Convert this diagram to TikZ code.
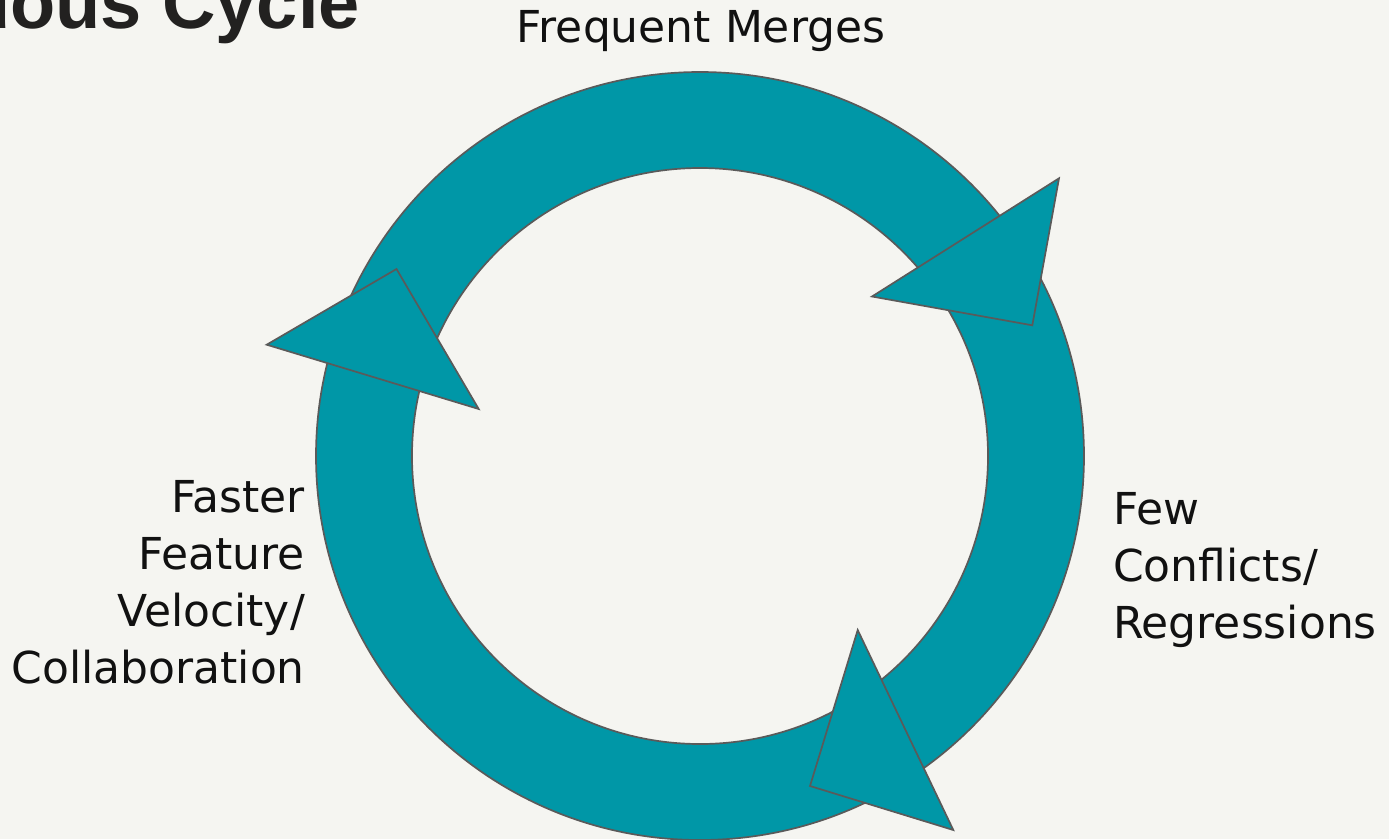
\documentclass[tikz,border=0pt]{standalone}
\usepackage{fontspec}
\setmainfont{DejaVu Sans}
\newfontfamily\titlefont{Liberation Sans}
\definecolor{bgc}{HTML}{F5F5F1}
\definecolor{ringteal}{HTML}{0097A7}
\definecolor{edgec}{HTML}{5A5A5A}
\definecolor{ink}{HTML}{111111}
\definecolor{titleink}{HTML}{222120}
\begin{document}
\begin{tikzpicture}[x=1pt,y=-1pt,
  ringfill/.style={fill=ringteal, even odd rule},
  ringedge/.style={draw=edgec, line width=1.7pt},
  arrowhead/.style={fill=ringteal, draw=edgec, line width=1.7pt, line join=miter},
  label/.style={inner sep=0pt, text=ink, font=\fontsize{44}{57.3}\selectfont}]
\fill[bgc] (0,0) rectangle (1389,839);
\useasboundingbox (0,0) rectangle (1389,839);
\begin{scope}
\clip (0,0) rectangle (1389,839);
\coordinate (c) at (700,456);
\fill[ringfill] (c) circle[radius=384pt] (c) circle[radius=288pt];
\draw[ringedge] (c) circle[radius=384pt];
\draw[ringedge] (c) circle[radius=288pt];
% arrowheads
\coordinate (a1) at (872,296.5);
\coordinate (a2) at (1059,178.3);
\coordinate (a3) at (1032.3,325.3);
\filldraw[arrowhead] (a1) -- (a2) -- (a3) -- cycle;
\coordinate (b1) at (266.7,344.7);
\coordinate (b2) at (396.5,269);
\coordinate (b3) at (478.7,409);
\filldraw[arrowhead] (b1) -- (b2) -- (b3) -- cycle;
\coordinate (d1) at (857.7,630);
\coordinate (d2) at (953.3,830);
\coordinate (d3) at (810,786);
\filldraw[arrowhead] (d1) -- (d2) -- (d3) -- cycle;
% title (cut off at the left edge, as in the reference)
\node[anchor=base east, inner sep=0pt, text=titleink,
      font=\titlefont\bfseries\fontsize{74}{80}\selectfont] (title) at (360,28) {uous Cycle};
\end{scope}
% labels
\node[label, anchor=base] (top) at (701,42) {Frequent Merges};
\node[label, anchor=base west] (right) at (1113,524)
  {\begin{tabular}[t]{@{}l@{}}Few\\Conflicts/\\Regressions\end{tabular}};
\node[label, anchor=base east] (left) at (305,512)
  {\begin{tabular}[t]{@{}r@{}}Faster\\Feature\\Velocity/\\Collaboration\end{tabular}};
\end{tikzpicture}
\end{document}
